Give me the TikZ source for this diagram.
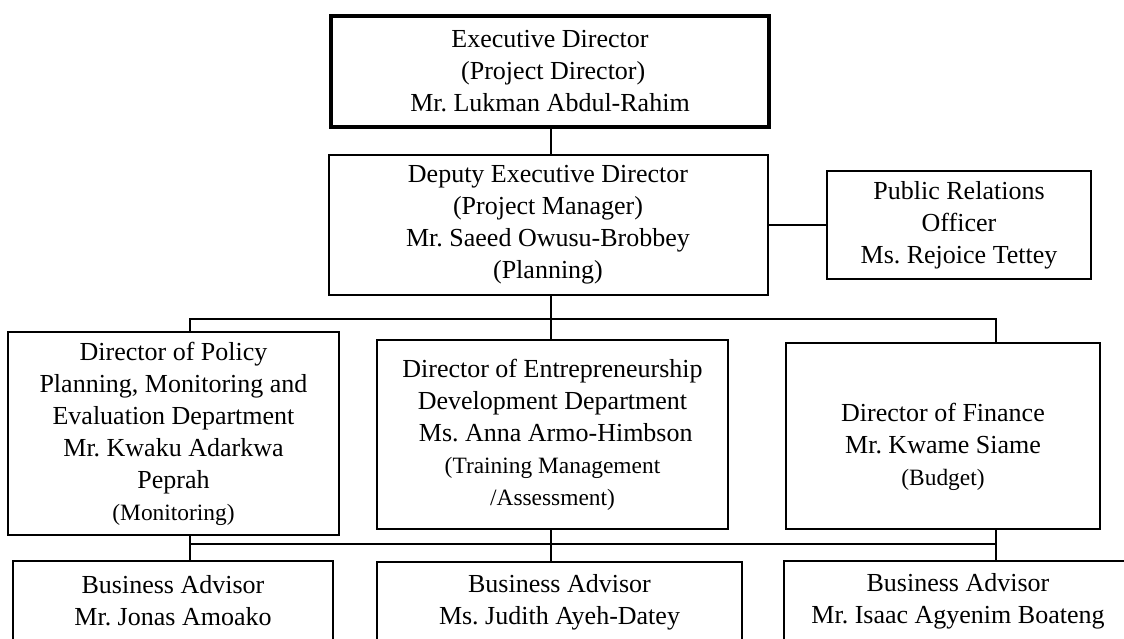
\documentclass[tikz,border=0pt]{standalone}
\usepackage{fontspec}
\setmainfont{Liberation Serif}
\frenchspacing
\newcommand{\sm}[1]{{\fontsize{11.7}{16}\selectfont #1}}
\begin{document}
\begin{tikzpicture}[x=0.5pt, y=-0.5pt, line width=1pt,
        post/.style={rectangle, draw, align=center, inner sep=0pt, font=\fontsize{13}{16}\selectfont}]
    \clip (0,0) rectangle (1124,638);
    \node[post, line width=2pt, minimum width=219pt, minimum height=55.5pt] (ed) at (550,71.5)
        {Executive Director\\ \ (Project Director)\\ Mr. Lukman Abdul-Rahim};
    \node[post, minimum width=219.5pt, minimum height=70pt] (ded) at (548,225)
        {Deputy Executive Director\\ (Project Manager)\\ Mr. Saeed Owusu-Brobbey\\ (Planning)};
    \node[post, minimum width=132pt, minimum height=54pt] (pro) at (959,225)
        {Public Relations\\ Officer\\ Ms. Rejoice Tettey};
    \node[post, minimum width=165.5pt, minimum height=101.5pt] (ppme) at (173.5,433.5)
        {Director of Policy\\ Planning, Monitoring and\\ Evaluation Department\\ Mr. Kwaku Adarkwa\\ Peprah\\ \sm{(Monitoring)}};
    \node[post, minimum width=175.5pt, minimum height=94.5pt] (edd) at (552.5,434.5)
        {Director of Entrepreneurship\\ Development Department\\ \ Ms. Anna Armo-Himbson\\ \sm{(Training Management}\\ \sm{/Assessment)}};
    \node[post, minimum width=157pt, minimum height=93pt] (fin) at (943,436)
        {\rule{0pt}{20pt}Director of Finance\\ Mr. Kwame Siame\\ \sm{(Budget)}};
    \node[post, minimum width=160pt, minimum height=40pt] (ba1) at (173,601)
        {Business Advisor\\ Mr. Jonas Amoako};
    \node[post, minimum width=182.5pt, minimum height=40pt] (ba2) at (559.5,602)
        {Business Advisor\\ Ms. Judith Ayeh-Datey};
    \node[post, minimum width=174pt, minimum height=40pt] (ba3) at (958,601)
        {Business Advisor\\ Mr. Isaac Agyenim Boateng};
    % bus lines
    \coordinate (busl) at (190,319);
    \coordinate (busm) at (551,319);
    \coordinate (busr) at (996,319);
    \coordinate (lowl) at (190,544);
    \coordinate (lowr) at (996,544);
    \draw (ed.south -| busm) -- (ded.north -| busm);
    \draw (ded) -- (pro);
    \draw (ded.south -| busm) -- (busm);
    \draw (ppme.north -| busl) -- (busl) -- (busr) -- (fin.north -| busr);
    \draw (busm) -- (edd.north -| busm);
    \draw (ppme.south -| lowl) -- (ba1.north -| lowl);
    \draw (edd.south -| busm) -- (ba2.north -| busm);
    \draw (fin.south -| lowr) -- (ba3.north -| lowr);
    \draw (lowl) -- (lowr);
\end{tikzpicture}
\end{document}
